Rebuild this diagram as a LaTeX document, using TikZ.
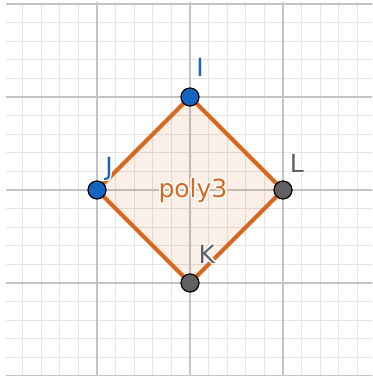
\documentclass[tikz,border=0pt]{standalone}
\usepackage{fontspec}
\setsansfont{DejaVu Sans}
\usepackage{contour}
\contourlength{1.3pt}
\usetikzlibrary{positioning}
\definecolor{ggblue}{RGB}{21,101,192}
\definecolor{gggray}{RGB}{97,97,97}
\definecolor{ggorange}{RGB}{214,104,32}
\definecolor{gridminor}{RGB}{228,228,228}
\definecolor{gridmajor}{RGB}{196,196,196}
\tikzset{
  ptblue/.style={circle, draw=black, line width=1.2pt, fill=ggblue, inner sep=0pt, minimum size=18pt},
  ptgray/.style={ptblue, fill=gggray},
  ptlabel/.style={anchor=base, inner sep=0pt, font=\sffamily\fontsize{25}{25}\selectfont},
}

\begin{document}
\begin{tikzpicture}[x=18.6pt,y=18.6pt]
  \useasboundingbox (-10.215,-10) rectangle (9.785,10.215);
  % grid, one cell per unit
  \begin{scope}
    \clip (-9.89,-10) rectangle (9.785,10.07);
    \foreach \k in {-10,...,10} {
      \draw[gridminor, line width=1pt] (\k,-10.5) -- (\k,10.5);
      \draw[gridminor, line width=1pt] (-10.5,\k) -- (10.5,\k);
    }
    \foreach \k in {-10,-5,0,5,10} {
      \draw[gridmajor, line width=1.4pt] (\k,-10.5) -- (\k,10.5);
      \draw[gridmajor, line width=1.4pt] (-10.5,\k) -- (10.5,\k);
    }
  \end{scope}
  % vertices
  \coordinate (pI) at (0,5);
  \coordinate (pJ) at (-5,0);
  \coordinate (pK) at (0,-5);
  \coordinate (pL) at (5,0);
  % polygon poly3
  \draw[ggorange, line width=4pt, line join=round, fill=ggorange, fill opacity=0.1]
    (pI) -- (pL) -- (pK) -- (pJ) -- cycle;
  \node[ptlabel, text=ggorange] (poly) at (0.16,-0.4) {\contour{white}{poly3}};
  % point labels
  \node[ptlabel, text=ggblue] (lblI) at (0.54,6.1) {\contour{white}{I}};
  \node[ptlabel, text=ggblue] (lblJ) at (-4.35,0.78) {\contour{white}{J}};
  \node[ptlabel, text=gggray] (lblL) at (5.75,0.95) {\contour{white}{L}};
  \node[ptlabel, text=gggray] (lblK) at (0.91,-3.95) {\contour{white}{K}};
  % points
  \node[ptblue] (I) at (pI) {};
  \node[ptblue] (J) at (pJ) {};
  \node[ptgray] (K) at (pK) {};
  \node[ptgray] (L) at (pL) {};
\end{tikzpicture}
\end{document}
